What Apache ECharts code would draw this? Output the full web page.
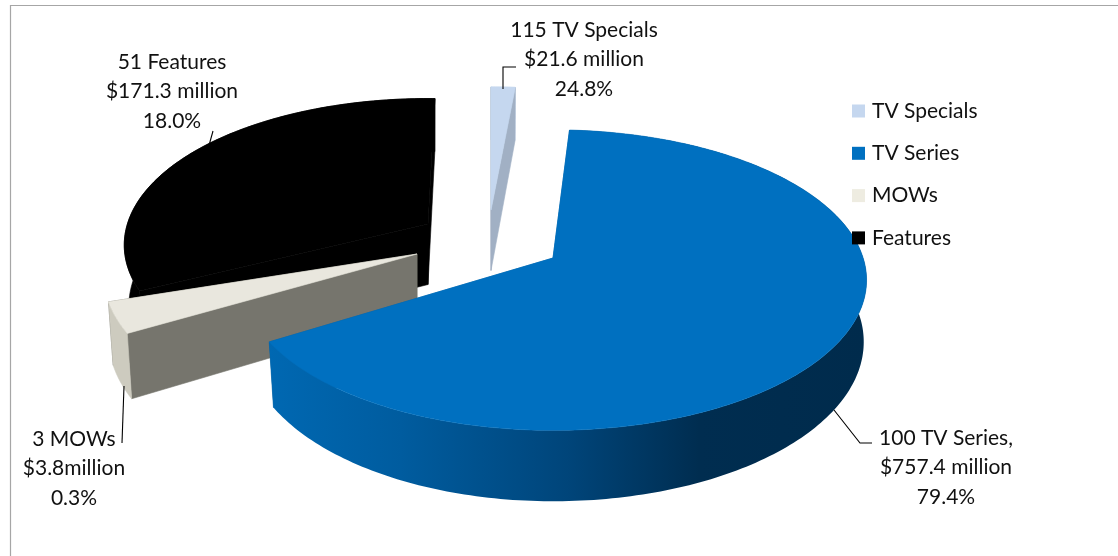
<!DOCTYPE html>
<html><head><meta charset="utf-8">
<style>html,body{margin:0;padding:0;background:#fff}#c{width:1118px;height:556px}</style>
<script src="https://cdn.jsdelivr.net/npm/echarts@6/dist/echarts.min.js"></script>
</head><body><div id="c"></div>
<script>
// Data
const categories = ['TV Specials', 'TV Series', 'MOWs', 'Features'];
const drawnSharePercent = [1.5, 65.2, 3.3, 30.0]; // slice sizes as drawn
const counts = ['115 TV Specials', '100 TV Series,', '3 MOWs', '51 Features'];
const amounts = ['$21.6 million', '$757.4 million', '$3.8million', '$171.3 million'];
const printedPercents = ['24.8%', '79.4%', '0.3%', '18.0%'];

// Styling and layout
const font = 'Lato, "Open Sans", sans-serif';
const view = {rx: 308, ry: 147, persp: 0.147, depth: 60.5, floor: 0.985, floorEast: 0.991};
const sliceStyle = {
  'TV Specials': {ax: 491, ay: 210, k: 0.955, east: 1, rot: 0, lead: 0, top: '#c5d7ef', rim: '#c5d7ef', side: '#a1b0c4'},
  'TV Series': {ax: 553, ay: 258, k: 1, east: 1.007, rot: -1.9, lead: 0, top: '#0070c0',
    rim: [[0, '#0068b2'], [0.22, '#005c9f'], [0.5, '#00457a'], [0.72, '#002d50'], [1, '#002b4c']], side: '#0060a4'},
  'MOWs': {ax: 417, ay: 254, k: 1.005, east: 1, rot: 0, lead: 0, top: '#e9e7de', rim: '#cdcbbf', side: '#76756d'},
  'Features': {ax: 428, ay: 224, k: 0.976, east: 1, rot: 1.5, lead: 9.5, top: '#000', rim: '#000', side: '#000'}
};
const legendColors = ['#c5d7ef', '#0070c0', '#eeece1', '#000'];
const drawOrder = ['Features', 'TV Specials', 'MOWs', 'TV Series'];
const labelPlace = {
  'TV Specials': {x: 584, y: 15, leader: [[503, 89], [503, 67], [516, 67]]},
  'TV Series': {x: 946, y: 423, leader: [[834, 410], [860, 443], [872, 443]]},
  'MOWs': {x: 74, y: 424, leader: [[124, 386], [122, 443]]},
  'Features': {x: 172, y: 47, leader: [[213, 131], [208, 149]]}
};

function project(s, deg, r, z) {
  const t = (deg + s.rot) * Math.PI / 180;
  const q = r * s.k;
  const X = q * Math.sin(t), Y = q * Math.cos(t), w = 1 + view.persp * Y;
  const sx = X < 0 ? (z ? view.floor : 1) : s.east * (z ? view.floorEast : 1);
  return [s.ax + view.rx * sx * X / w, s.ay - view.ry * Y / w + (z ? view.depth / w : 0)];
}
function startOf(name) {
  let sum = 0;
  for (let i = 0; i < categories.indexOf(name); i++) sum += drawnSharePercent[i];
  return sum * 3.6;
}
function renderSlice(name) {
  return function (params, api) {
    const s = sliceStyle[name];
    const end = startOf(name) + api.value(0) * 3.6;
    const a0 = startOf(name) - s.lead, a1 = end;
    const topRim = [], lowRim = [];
    for (let d = a0; d < a1; d += 1) { topRim.push(project(s, d, 1, 0)); lowRim.push(project(s, d, 1, 1)); }
    topRim.push(project(s, a1, 1, 0)); lowRim.push(project(s, a1, 1, 1));
    const c0 = project(s, 0, 0, 0), c1 = project(s, 0, 0, 1);
    const poly = (pts, fill) => Array.isArray(fill)
      ? {type: 'polygon', shape: {points: pts}, style: {
          fill: new echarts.graphic.LinearGradient(0, 0, 1, 0, fill.map(p => ({offset: p[0], color: p[1]}))), stroke: null}}
      : {type: 'polygon', shape: {points: pts}, style: {fill, stroke: fill, lineWidth: 0.6}};
    const sideA = [c0, topRim[0], lowRim[0], c1];
    const sideB = [c0, topRim[topRim.length - 1], lowRim[lowRim.length - 1], c1];
    const wall = topRim.concat(lowRim.slice().reverse());
    const children = name === 'TV Specials'
      ? [poly(wall, s.rim), poly(sideB, s.side), poly(sideA, s.side)]
      : [poly(sideB, s.side), poly(sideA, s.side), poly(wall, s.rim)];
    children.push(poly([c0].concat(topRim), s.top));
    return {type: 'group', children};
  };
}

const series = drawOrder.map(name => ({
  type: 'custom', name, coordinateSystem: 'none', silent: true, clip: false,
  renderItem: renderSlice(name),
  itemStyle: {color: legendColors[categories.indexOf(name)]},
  data: [[drawnSharePercent[categories.indexOf(name)]]]
}));

const graphic = [
  {type: 'polyline', z: 0, shape: {points: [[10.5, 556], [10.5, 5.5], [1118, 5.5]]}, style: {fill: null, stroke: '#a6a6a6', lineWidth: 1.2}}
];
categories.forEach((name, i) => {
  const p = labelPlace[name];
  graphic.push({type: 'text', z: 20, x: p.x, y: p.y, style: {
    text: [counts[i], amounts[i], printedPercents[i]].join('\n'),
    font: '21px ' + font, fill: '#111', align: 'center', verticalAlign: 'top', lineHeight: 29.6}});
  graphic.push({type: 'polyline', z: 20, shape: {points: p.leader}, style: {fill: null, stroke: '#000', lineWidth: 1.1}});
});

const chart = echarts.init(document.getElementById('c'), null, {renderer: 'canvas'});
chart.setOption({
  animation: false, backgroundColor: '#fff',
  legend: {
    orient: 'vertical', left: 852, top: 99, icon: 'rect', itemWidth: 13, itemHeight: 13, itemGap: 18.3,
    padding: 0, selectedMode: false, z: 30,
    textStyle: {fontFamily: font, fontSize: 21, color: '#111', lineHeight: 24, padding: [0, 0, 0, 2]},
    data: categories.map((name, i) => ({name, itemStyle: {color: legendColors[i]}}))
  },
  graphic, series
});
</script></body></html>
